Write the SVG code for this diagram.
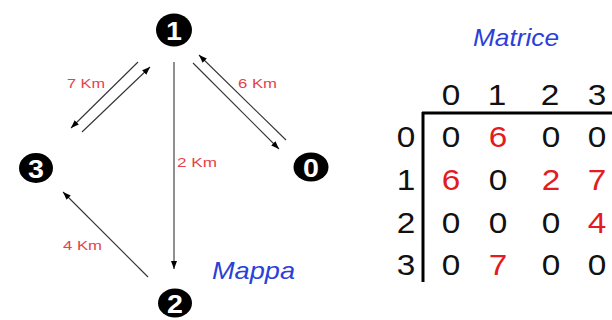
<svg xmlns="http://www.w3.org/2000/svg" width="612" height="320" viewBox="0 0 612 320">
<style>
.node ellipse{fill:#000}
.node text{fill:#fff;font-family:"Liberation Sans",Arial,sans-serif;font-weight:bold;font-size:26px;text-anchor:middle}
.edge{stroke:#333;stroke-width:1.1;fill:none;marker-end:url(#ah)}
.lbl{fill:#e4434a;font-family:"Liberation Sans",Arial,sans-serif;font-size:13px}
.title{fill:#2b3fd9;font-family:"Liberation Sans",Arial,sans-serif;font-style:italic;font-size:24px}
.d{font-family:"Liberation Sans",Arial,sans-serif;font-size:29px;text-anchor:middle;fill:#111}
.r{fill:#e31b23}
.axis{stroke:#000;stroke-width:3;fill:none}
</style>
<defs>
<marker id="ah" markerWidth="9" markerHeight="7" refX="8" refY="3" orient="auto" markerUnits="userSpaceOnUse">
<path d="M0,0 L8,3 L0,6 z" fill="#000"/>
</marker>
</defs>
<rect width="612" height="320" fill="#fff"/>
<g id="connectors">
<path class="edge" d="M174,62 L174,269"/>
<path class="edge" d="M193,63 L279,149"/>
<path class="edge" d="M286,140 L199,55"/>
<path class="edge" d="M138,62 L71,128"/>
<path class="edge" d="M82,132 L150,67"/>
<path class="edge" d="M148,277 L63,192"/>
<text class="lbl" x="67" y="88" textLength="38" lengthAdjust="spacingAndGlyphs">7 Km</text>
<text class="lbl" x="238" y="88" textLength="39" lengthAdjust="spacingAndGlyphs">6 Km</text>
<text class="lbl" x="177" y="167" textLength="40" lengthAdjust="spacingAndGlyphs">2 Km</text>
<text class="lbl" x="63" y="250" textLength="39" lengthAdjust="spacingAndGlyphs">4 Km</text>
</g>
<g id="node1" class="node"><ellipse cx="174" cy="30" rx="18" ry="16.5"/><text transform="translate(174,39.5) scale(1.1,1)">1</text></g>
<g id="node3" class="node"><ellipse cx="36" cy="168" rx="17" ry="15"/><text transform="translate(36,177.5) scale(1.1,1)">3</text></g>
<g id="node0" class="node"><ellipse cx="311" cy="167" rx="17.5" ry="14.5"/><text transform="translate(311,176.5) scale(1.1,1)">0</text></g>
<g id="node2" class="node"><ellipse cx="175" cy="303" rx="17" ry="14.5"/><text transform="translate(175,312.5) scale(1.1,1)">2</text></g>
<text class="title" x="212" y="279" textLength="83" lengthAdjust="spacingAndGlyphs">Mappa</text>
<g id="matrix">
<text class="title" x="473" y="46" textLength="86" lengthAdjust="spacingAndGlyphs">Matrice</text>
<path class="axis" d="M422,113 L612,113 M423,112 L423,282"/>
<text class="d" transform="translate(451,105) scale(1.15,1)">0</text>
<text class="d" transform="translate(497,105) scale(1.15,1)">1</text>
<text class="d" transform="translate(550,105) scale(1.15,1)">2</text>
<text class="d" transform="translate(597,105) scale(1.15,1)">3</text>
<text class="d" transform="translate(406,147) scale(1.15,1)">0</text>
<text class="d" transform="translate(406,190) scale(1.15,1)">1</text>
<text class="d" transform="translate(406,233) scale(1.15,1)">2</text>
<text class="d" transform="translate(406,275) scale(1.15,1)">3</text>
<text class="d" transform="translate(451,147) scale(1.15,1)">0</text>
<text class="d r" transform="translate(498,147) scale(1.15,1)">6</text>
<text class="d" transform="translate(551,147) scale(1.15,1)">0</text>
<text class="d" transform="translate(597,147) scale(1.15,1)">0</text>
<text class="d r" transform="translate(451,190) scale(1.15,1)">6</text>
<text class="d" transform="translate(498,190) scale(1.15,1)">0</text>
<text class="d r" transform="translate(551,190) scale(1.15,1)">2</text>
<text class="d r" transform="translate(597,190) scale(1.15,1)">7</text>
<text class="d" transform="translate(451,233) scale(1.15,1)">0</text>
<text class="d" transform="translate(498,233) scale(1.15,1)">0</text>
<text class="d" transform="translate(551,233) scale(1.15,1)">0</text>
<text class="d r" transform="translate(597,233) scale(1.15,1)">4</text>
<text class="d" transform="translate(451,275) scale(1.15,1)">0</text>
<text class="d r" transform="translate(498,275) scale(1.15,1)">7</text>
<text class="d" transform="translate(551,275) scale(1.15,1)">0</text>
<text class="d" transform="translate(597,275) scale(1.15,1)">0</text>
</g>
</svg>
